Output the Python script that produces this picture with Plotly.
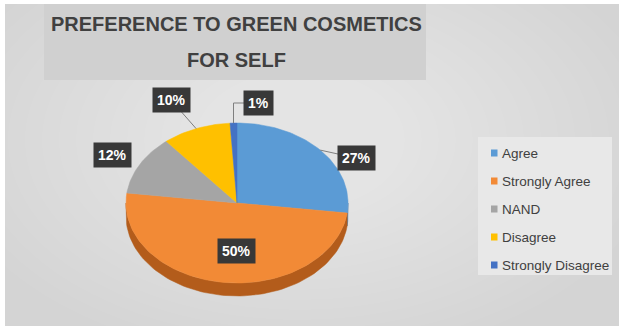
import numpy as np
import plotly.graph_objects as go

# ---------------- data ----------------
CATEGORIES = ["Agree", "Strongly Agree", "NAND", "Disagree", "Strongly Disagree"]
VALUES = [27, 50, 12, 10, 1]
TITLE_LINES = ["PREFERENCE TO GREEN COSMETICS", "FOR SELF"]

# ---------------- styling / layout ----------------
W, H = 619, 329
TOP_COLORS = ["#5b9bd5", "#f28a36", "#a5a5a5", "#ffc000", "#4472c4"]
SIDE_COLORS = ["#3d72a6", "#b35c1b", "#7a7a7a", "#bf9000", "#2f5597"]
CX, CY, RX, RY, DEPTH = 237, 203, 111, 80, 13
LABEL_XY = [(356, 158), (236, 251), (112, 155), (171, 100), (258, 103)]
LEADER = ["straight", None, None, "straight", "elbow"]
FONT = "Liberation Sans, Arial, sans-serif"


def ell(theta_deg, dy=0.0):
    t = np.radians(theta_deg)
    return CX + RX * np.sin(t), CY - RY * np.cos(t) + dy


fig = go.Figure()

total = float(sum(VALUES))
starts = np.concatenate([[0.0], np.cumsum(VALUES)[:-1]]) / total * 360.0
ends = np.cumsum(VALUES) / total * 360.0

# side (3D rim) for front half
for i, (a, b) in enumerate(zip(starts, ends)):
    a2, b2 = max(a, 90.0), min(b, 270.0)
    if b2 <= a2:
        continue
    n = max(3, int((b2 - a2) / 2))
    th = np.linspace(a2, b2, n)
    xt, yt = ell(th)
    xb, yb = ell(th[::-1], DEPTH)
    fig.add_trace(go.Scatter(
        x=np.concatenate([xt, xb, xt[:1]]), y=np.concatenate([yt, yb, yt[:1]]),
        fill="toself", mode="lines", line=dict(color=SIDE_COLORS[i], width=0.5),
        fillcolor=SIDE_COLORS[i], hoverinfo="skip", showlegend=False))

# top faces
for i, (a, b) in enumerate(zip(starts, ends)):
    n = max(3, int((b - a) / 1.5))
    th = np.linspace(a, b, n)
    xs, ys = ell(th)
    fig.add_trace(go.Scatter(
        x=np.concatenate([[CX], xs, [CX]]), y=np.concatenate([[CY], ys, [CY]]),
        fill="toself", mode="lines", line=dict(color=TOP_COLORS[i], width=0.5),
        fillcolor=TOP_COLORS[i], name=CATEGORIES[i],
        hovertemplate=CATEGORIES[i] + ": %{text}<extra></extra>",
        text=[f"{VALUES[i]}%"] * (n + 2), showlegend=False))

# leader lines
for i, (a, b) in enumerate(zip(starts, ends)):
    if LEADER[i] is None:
        continue
    ex, ey = ell((a + b) / 2)
    lx, ly = LABEL_XY[i]
    if LEADER[i] == "elbow":
        xs, ys = [ex, ex, lx], [ey, ly, ly]
    else:
        xs, ys = [ex, lx], [ey, ly]
    fig.add_trace(go.Scatter(x=xs, y=ys, mode="lines",
                             line=dict(color="#7f7f7f", width=1),
                             hoverinfo="skip", showlegend=False))

annotations = []
# data labels
for i, v in enumerate(VALUES):
    lx, ly = LABEL_XY[i]
    annotations.append(dict(
        x=lx, y=ly, xref="x", yref="y", text=f"<b>{v}%</b>", showarrow=False,
        font=dict(family=FONT, size=14, color="white"),
        bgcolor="#383838", borderpad=4, xanchor="center", yanchor="middle"))

# title
for j, (line, ty) in enumerate(zip(TITLE_LINES, [24, 60])):
    annotations.append(dict(
        x=236, y=ty, xref="x", yref="y", text=f"<b>{line}</b>", showarrow=False,
        font=dict(family=FONT, size=20, color="#404040"),
        xanchor="center", yanchor="middle"))

shapes = []
# background gradient approximation
shapes.append(dict(type="rect", xref="x", yref="y", x0=5, y0=4, x1=W, y1=326,
                   fillcolor="#d4d4d4", line=dict(width=0), layer="below"))
for k in range(16):
    rx = 360 - k * 17
    ry = 220 - k * 10
    shapes.append(dict(type="circle", xref="x", yref="y", x0=300 - rx, x1=300 + rx,
                       y0=140 - ry, y1=140 + ry, fillcolor="white", opacity=0.045,
                       line=dict(width=0), layer="below"))
# title box
shapes.append(dict(type="rect", xref="x", yref="y", x0=44, y0=4, x1=426, y1=80,
                   fillcolor="#d0d0d0", line=dict(width=0), layer="below"))
# legend box
shapes.append(dict(type="rect", xref="x", yref="y", x0=478, y0=137, x1=612, y1=275,
                   fillcolor="#e8e8e8", line=dict(width=0), layer="below"))

# legend entries
for i, name in enumerate(CATEGORIES):
    yy = 153 + 28 * i
    shapes.append(dict(type="rect", xref="x", yref="y", x0=491, x1=497.5,
                       y0=yy - 3.5, y1=yy + 3.5, fillcolor=TOP_COLORS[i],
                       line=dict(width=0)))
    annotations.append(dict(x=500, y=yy, xref="x", yref="y", text=name, showarrow=False,
                            font=dict(family=FONT, size=13.5, color="#404040"),
                            xanchor="left", yanchor="middle"))

fig.update_layout(
    width=W, height=H, margin=dict(l=0, r=0, t=0, b=0),
    paper_bgcolor="white", plot_bgcolor="rgba(0,0,0,0)",
    xaxis=dict(range=[0, W], visible=False, fixedrange=True),
    yaxis=dict(range=[H, 0], visible=False, fixedrange=True),
    shapes=shapes, annotations=annotations, showlegend=False,
)

fig.write_html("out.html")
